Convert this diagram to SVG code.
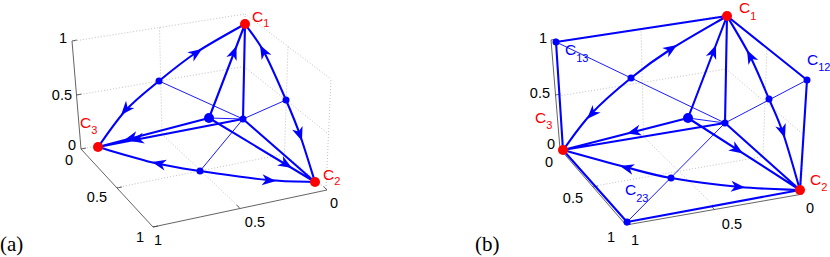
<svg xmlns="http://www.w3.org/2000/svg" width="830" height="257" viewBox="0 0 830 257">
<style>
.grid{fill:none;stroke:#b0b0b0;stroke-width:0.8;stroke-dasharray:1 2}
.axis{fill:none;stroke:#3c3c3c;stroke-width:0.8}
.tk{font-family:"Liberation Sans",Arial,sans-serif;font-size:14.5px;fill:#000;text-anchor:end}
.thick{fill:none;stroke:#0000ff;stroke-width:2.1}
.thin{fill:none;stroke:#0000ff;stroke-width:0.9}
.ah{fill:#0000ff}
.red{fill:#ff0000}
.blue{fill:#0000ff}
.lbl{font-family:"Liberation Sans",Arial,sans-serif;font-size:15.5px}
.lr{fill:#ff0000}
.lb{fill:#0000ff}
.panel{font-family:"Liberation Serif","Times New Roman",serif;font-size:21px;fill:#000}
</style>
<defs><path id="ah" d="M0,0 L-14,-5.5 L-10,0 L-14,5.5 Z"/></defs>

<g id="grid-a" class="grid">
<path d="M74,41 L245,14 M77.5,95 L244,66.5 M159.5,27.5 L162,134 M243,119 L245,14 M245,14 L331,79 M244,66.5 L328.5,134 M288,46.5 L284.5,154 M326,189 L331,79 M81,149 L243,119 M243,119 L326,189 M117,187.5 L284.5,154 M162,134 L239.5,207.5"/>
</g>
<g id="grid-b" class="grid">
<path d="M555,42 L727,15 M558.5,96 L726,69 M641,28.5 L643.5,136.5 M725,123 L727,15 M727,15 L807,80 M726,69 L804,135 M767,47.5 L763,156.5 M801,190 L807,80 M562,150 L725,123 M725,123 L801,190 M594.5,186 L763,156.5 M643.5,136.5 L714,206"/>
</g>

<g id="axes-a">
<path class="axis" d="M72,41 L81,149 L153,227 L327,190 M72,41 l5,-1 M76.5,95 l5,-1 M81,149 l5,-1 M117,188 l5,-1 M153,227 l5,-1 M240,208.5 l-3.4,-3.6 M327,190 l-3.4,-3.6"/>
<text class="tk" x="67" y="43">1</text>
<text class="tk" x="72" y="100">0.5</text>
<text class="tk" x="76" y="150">0</text>
<text class="tk" x="73" y="165">0</text>
<text class="tk" x="107" y="202">0.5</text>
<text class="tk" x="144" y="242">1</text>
<text class="tk" x="162" y="245">1</text>
<text class="tk" x="265" y="227">0.5</text>
<text class="tk" x="338" y="208">0</text>
</g>
<g id="axes-b">
<path class="axis" d="M551,40 L560,149 L626,225 L803,194 M551,40 l5,-1 M555.5,95 l5,-1 M560,149 l5,-1 M593,187 l5,-1 M626,225 l5,-1 M714.5,209.5 l-3.4,-3.6 M803,194 l-3.4,-3.6"/>
<text class="tk" x="547" y="43">1</text>
<text class="tk" x="550" y="98">0.5</text>
<text class="tk" x="555" y="149">0</text>
<text class="tk" x="553" y="167">0</text>
<text class="tk" x="583" y="203">0.5</text>
<text class="tk" x="615" y="242">1</text>
<text class="tk" x="639" y="245">1</text>
<text class="tk" x="742" y="229">0.5</text>
<text class="tk" x="814" y="213">0</text>
</g>

<g id="connectors">
<path class="thin" d="M159,81 L243,119 M286,100 L243,119 M200,171 L243,119 M209,118 L243,119"/>
<path class="thick" d="M98,147 C102.7,140.8 115.8,121 126,110 C136.2,99 147.2,90.7 159,81 C170.8,71.3 182.7,61.5 197,52 C211.3,42.5 237,28.7 245,24"/>
<path class="thick" d="M245,24 C248.2,28.7 257.2,39.3 264,52 C270.8,64.7 280,86.2 286,100 C292,113.8 295.2,121.3 300,135 C304.8,148.7 312.5,174.2 315,182"/>
<path class="thick" d="M98,147 C107.5,149.7 138,159 155,163 C172,167 181.2,168.2 200,171 C218.8,173.8 248.8,178.2 268,180 C287.2,181.8 307.2,181.7 315,182"/>
<path class="thick" d="M209,118 L245,24 M243,119 L245,24 M209,118 L98,147 M243,119 L98,147 M209,118 L315,182 M243,119 L315,182"/>
<g class="ah">
<use href="#ah" transform="translate(121,115) rotate(131)"/>
<use href="#ah" transform="translate(202,49) rotate(-34)"/>
<use href="#ah" transform="translate(260,45) rotate(-118)"/>
<use href="#ah" transform="translate(302,141) rotate(70.5)"/>
<use href="#ah" transform="translate(152,162) rotate(193)"/>
<use href="#ah" transform="translate(276,181) rotate(5.5)"/>
<use href="#ah" transform="translate(236.5,46) rotate(-69)"/>
<use href="#ah" transform="translate(124,140.2) rotate(165.4)"/>
<use href="#ah" transform="translate(130,140.8) rotate(169)"/>
<use href="#ah" transform="translate(292,168) rotate(31.1)"/>
</g>

<path class="thin" d="M556,42 L725,123 M807,80 L725,123 M627,222 L725,123 M688,118 L725,123"/>
<path class="thick" d="M556,42 L727,16 M556,42 L563,150 M727,16 L807,80 M807,80 L800,190 M563,150 L627,222 M627,222 L800,190"/>
<path class="thick" d="M563,150 C567.7,144 579.7,126 591,114 C602.3,102 617.7,88.8 631,78 C644.3,67.2 655,59.3 671,49 C687,38.7 717.7,21.5 727,16"/>
<path class="thick" d="M727,16 C730.8,22.7 743,42.2 750,56 C757,69.8 763.5,86.2 769,99 C774.5,111.8 777.8,117.8 783,133 C788.2,148.2 797.2,180.5 800,190"/>
<path class="thick" d="M563,150 C573.3,152.8 607,162.3 625,167 C643,171.7 651.8,174.7 671,178 C690.2,181.3 718.5,185 740,187 C761.5,189 790,189.5 800,190"/>
<path class="thick" d="M688,118 L727,16 M725,123 L727,16 M688,118 L563,150 M725,123 L563,150 M688,118 L800,190 M725,123 L800,190"/>
<g class="ah">
<use href="#ah" transform="translate(587,119) rotate(133.4)"/>
<use href="#ah" transform="translate(677,45) rotate(-33)"/>
<use href="#ah" transform="translate(747,50) rotate(-117)"/>
<use href="#ah" transform="translate(785,138) rotate(71.2)"/>
<use href="#ah" transform="translate(620,166) rotate(194.5)"/>
<use href="#ah" transform="translate(745,187.5) rotate(5.3)"/>
<use href="#ah" transform="translate(716,45) rotate(-69.1)"/>
<use href="#ah" transform="translate(627,133.6) rotate(165.6)"/>
<use href="#ah" transform="translate(743,153.4) rotate(32.7)"/>
</g>
</g>

<g id="a-m13"><circle class="blue" cx="159" cy="81" r="3.5"/></g>
<g id="a-m12"><circle class="blue" cx="286" cy="100" r="3.5"/></g>
<g id="a-m23"><circle class="blue" cx="200" cy="171" r="3.5"/></g>
<g id="a-P"><circle class="blue" cx="209" cy="118" r="5"/></g>
<g id="a-O"><circle class="blue" cx="243" cy="119" r="3.5"/></g>
<g id="a-C1"><circle class="red" cx="245" cy="24" r="5"/><text class="lbl lr" x="252" y="22">C<tspan dy="5" font-size="11">1</tspan></text></g>
<g id="a-C2"><circle class="red" cx="315" cy="182" r="5"/><text class="lbl lr" x="323" y="180">C<tspan dy="5" font-size="11">2</tspan></text></g>
<g id="a-C3"><circle class="red" cx="98" cy="147" r="5"/><text class="lbl lr" x="80" y="128">C<tspan dy="6" font-size="11">3</tspan></text></g>

<g id="b-m13"><circle class="blue" cx="631" cy="78" r="3.5"/></g>
<g id="b-m12"><circle class="blue" cx="769" cy="99" r="3.5"/></g>
<g id="b-m23"><circle class="blue" cx="671" cy="178" r="3.5"/></g>
<g id="b-P"><circle class="blue" cx="688" cy="118" r="5"/></g>
<g id="b-O"><circle class="blue" cx="725" cy="123" r="3.5"/></g>
<g id="b-C13"><circle class="blue" cx="556" cy="42" r="3.5"/><text class="lbl lb" x="565" y="55">C<tspan dy="7" font-size="11">13</tspan></text></g>
<g id="b-C12"><circle class="blue" cx="807" cy="80" r="3.5"/><text class="lbl lb" x="807" y="65">C<tspan dy="6" font-size="11">12</tspan></text></g>
<g id="b-C23"><circle class="blue" cx="627" cy="222" r="3.5"/><text class="lbl lb" x="625" y="195">C<tspan dy="7" font-size="11">23</tspan></text></g>
<g id="b-C1"><circle class="red" cx="727" cy="16" r="5"/><text class="lbl lr" x="739" y="13">C<tspan dy="7" font-size="11">1</tspan></text></g>
<g id="b-C2"><circle class="red" cx="800" cy="190" r="5"/><text class="lbl lr" x="810" y="185">C<tspan dy="6" font-size="11">2</tspan></text></g>
<g id="b-C3"><circle class="red" cx="563" cy="150" r="5"/><text class="lbl lr" x="535" y="123">C<tspan dy="6" font-size="11">3</tspan></text></g>

<text class="panel" x="0" y="251">(a)</text>
<text class="panel" x="475" y="251">(b)</text>
</svg>
